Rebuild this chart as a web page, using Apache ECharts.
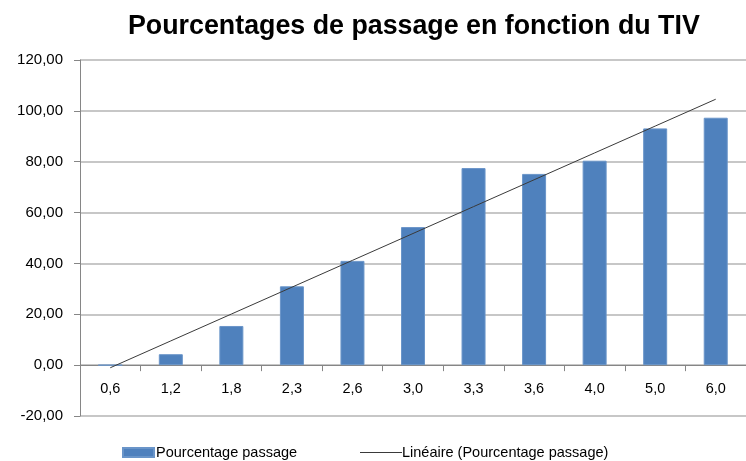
<!DOCTYPE html>
<html>
<head>
<meta charset="utf-8">
<script src="https://cdn.jsdelivr.net/npm/echarts@6/dist/echarts.min.js"></script>
<style>
  html, body { margin: 0; padding: 0; background: #ffffff; }
  #chart { width: 746px; height: 461px; }
</style>
</head>
<body>
<div id="chart"></div>
<script>
// TIV classes (category labels)
const categories = ['0,6', '1,2', '1,8', '2,3', '2,6', '3,0', '3,3', '3,6', '4,0', '5,0', '6,0'];
// Pass percentage per TIV class
const passage = [0, 4.3, 15.4, 31.0, 41.0, 54.3, 77.5, 75.2, 80.4, 93.1, 97.3];
// Y axis range and step
const yMin = -20, yMax = 120, yStep = 20;

// Least-squares linear trend over category index 1..n
function linearTrend(values) {
  const n = values.length;
  let sx = 0, sy = 0, sxy = 0, sxx = 0;
  values.forEach((v, i) => {
    const x = i + 1;
    sx += x; sy += v; sxy += x * v; sxx += x * x;
  });
  const slope = (n * sxy - sx * sy) / (n * sxx - sx * sx);
  const intercept = (sy - slope * sx) / n;
  return values.map((_, i) => intercept + slope * (i + 1));
}
const trend = linearTrend(passage);

const gridTop = 60, gridHeight = 356;
// distance from the bottom of the plot to the zero line
const zeroOffset = gridHeight * (0 - yMin) / (yMax - yMin);

const labelFont = "'Liberation Sans', Arial, sans-serif";
const chart = echarts.init(document.getElementById('chart'), null, { renderer: 'canvas' });

chart.setOption({
  animation: false,
  backgroundColor: '#ffffff',
  title: {
    text: 'Pourcentages de passage en fonction du TIV',
    left: 123,
    top: 8,
    textStyle: {
      fontFamily: labelFont,
      fontWeight: 'bold',
      fontSize: 26.8,
      color: '#000000'
    }
  },
  legend: [
    {
      data: [{ name: 'Pourcentage passage', icon: 'rect' }],
      left: 122,
      top: 445,
      padding: 0,
      itemWidth: 31,
      itemHeight: 9,
      itemGap: 3,
      textStyle: { fontFamily: labelFont, fontSize: 14.5, color: '#000000', padding: [0, 0, 0, -3] }
    },
    {
      data: [{ name: 'Linéaire (Pourcentage passage)', icon: 'rect', itemStyle: { color: '#3a3a3a' } }],
      left: 360,
      top: 445,
      padding: 0,
      itemWidth: 42,
      itemHeight: 1,
      textStyle: { fontFamily: labelFont, fontSize: 14.5, color: '#000000', padding: [0, 0, 0, -5] }
    }
  ],
  grid: {
    left: 80,
    top: gridTop,
    width: 673,
    height: gridHeight,
    containLabel: false
  },
  xAxis: {
    type: 'category',
    data: categories,
    offset: -zeroOffset,
    axisLine: { onZero: false, lineStyle: { color: '#868686', width: 1 } },
    axisTick: { show: true, length: 6, lineStyle: { color: '#868686' } },
    axisLabel: {
      fontFamily: labelFont,
      fontSize: 14.5,
      color: '#000000',
      margin: 16
    },
    splitLine: { show: false }
  },
  yAxis: {
    type: 'value',
    min: yMin,
    max: yMax,
    interval: yStep,
    axisLine: { show: true, lineStyle: { color: '#868686', width: 1 } },
    axisTick: { show: true, length: 6, lineStyle: { color: '#868686' } },
    axisLabel: {
      fontFamily: labelFont,
      fontSize: 15,
      color: '#000000',
      margin: 17,
      formatter: v => v.toFixed(2).replace('.', ',')
    },
    splitLine: { show: true, lineStyle: { color: '#b4b4b4', width: 1.5 } }
  },
  series: [
    {
      name: 'Pourcentage passage',
      type: 'bar',
      data: passage,
      barWidth: 24,
      itemStyle: { color: '#4f81bd', borderColor: '#6a95c9', borderWidth: 1 }
    },
    {
      name: 'Linéaire (Pourcentage passage)',
      type: 'line',
      data: trend,
      symbol: 'none',
      lineStyle: { color: '#3a3a3a', width: 1 },
      itemStyle: { color: '#3a3a3a' }
    }
  ]
});
</script>
</body>
</html>
